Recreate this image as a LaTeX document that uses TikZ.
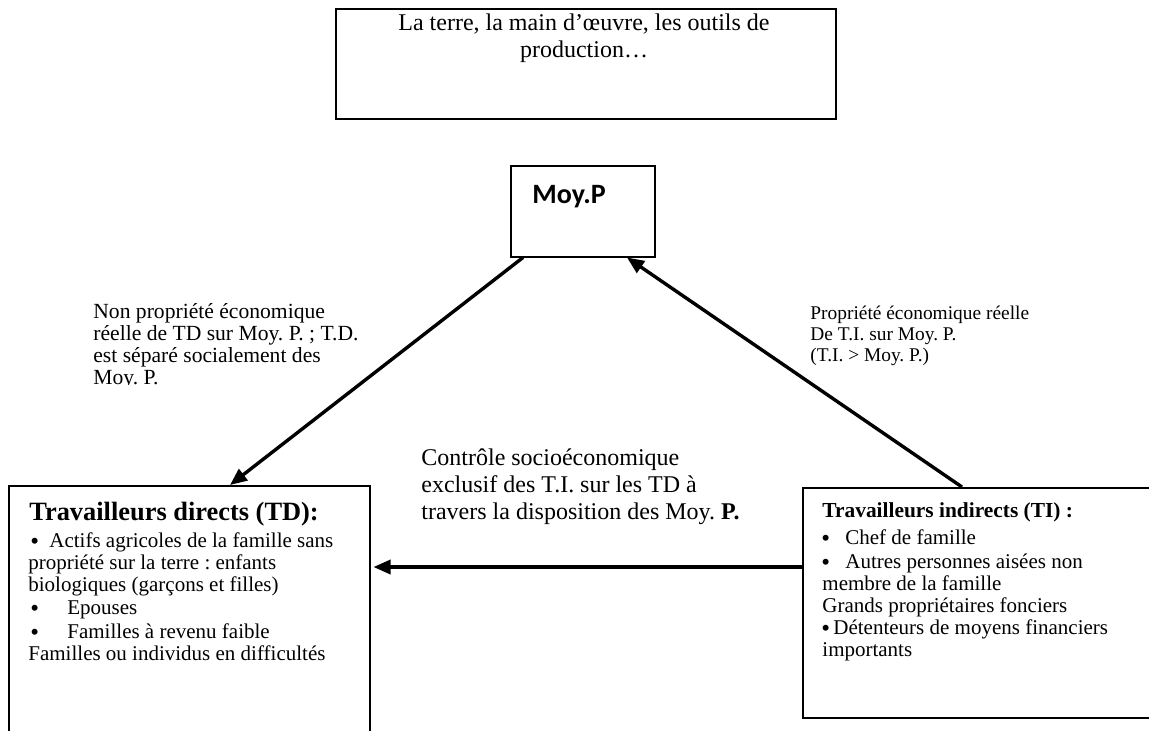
\documentclass[tikz,border=0pt]{standalone}
\usepackage{fontspec}
\setmainfont{Liberation Serif}
\newfontfamily\calfont{Carlito}
\usetikzlibrary{arrows.meta,calc}
\frenchspacing
\newcommand{\bul}{\raisebox{-0.3ex}[0.6ex][0pt]{\fontsize{12.5}{12}\selectfont•}}
\begin{document}
\begin{tikzpicture}[x=0.5pt,y=-0.5pt,
  box/.style={draw, line width=0.75pt, inner sep=0pt, anchor=north west},
  conn/.style={line width=1.7pt, -{Triangle[length=8.5pt,width=7pt]}},
  lbl/.style={inner sep=0pt, anchor=base west, font=\frenchspacing},
  ctr/.style={inner sep=0pt, anchor=base}]
\useasboundingbox (0,0) rectangle (1149,730);
\fill[white] (0,0) rectangle (1149,730);
\begin{scope}
\clip (0,0) rectangle (1149,730);
% boxes
\node[box, minimum width=250pt, minimum height=55pt] (top) at (335,8) {};
\node[box, minimum width=72pt, minimum height=45.5pt] (moyp) at (510,165) {};
\node[box, minimum width=180.5pt, minimum height=140pt] (td) at (8,485) {};
\node[box, minimum width=180pt, minimum height=115pt] (ti) at (802,487) {};
% box texts
\node[ctr] (toptxt) at (584,30) {\parbox[t]{240pt}{\centering\fontsize{12}{13.7}\selectfont La terre, la main d’œuvre, les outils de\\ production…}};
\node[lbl] (moyptxt) at (532,203) {\calfont\bfseries\fontsize{14}{16}\selectfont Moy.P};
% TD
\node[lbl] (tdh) at (29,520) {\fontsize{13.2}{15}\selectfont\bfseries Travailleurs directs (TD):};
\node[lbl] (tdbody) at (28,547) {\parbox[t]{175pt}{\raggedright\fontsize{10.5}{11}\selectfont
\hspace*{1pt}\makebox[9.5pt][l]{\bul}Actifs agricoles de la famille sans\\
propriété sur la terre : enfants\\
biologiques (garçons et filles)\\[0.5pt]
\hspace*{1pt}\makebox[18.5pt][l]{\bul}Epouses\\[1pt]
\hspace*{1pt}\makebox[18.5pt][l]{\bul}Familles à revenu faible\\
Familles ou individus en difficultés}};
% TI
\node[lbl] (tih) at (822,517) {\fontsize{10.7}{12}\selectfont\bfseries Travailleurs indirects (TI) :};
\node[lbl] (tibody) at (821,544) {\parbox[t]{170pt}{\raggedright\fontsize{10.5}{11}\selectfont
\makebox[12pt][l]{\bul}Chef de famille\\[1pt]
\makebox[12pt][l]{\bul}Autres personnes aisées non\\
\hspace*{0.5pt}membre de la famille\\
\hspace*{0.5pt}Grands propriétaires fonciers\\
\makebox[6pt][l]{\bul}Détenteurs de moyens financiers\\
\hspace*{0.5pt}importants}};
% labels
\begin{scope}
\clip (0,0) rectangle (500,384);
\node[lbl] (lab1) at (93,318) {\parbox[t]{150pt}{\raggedright\fontsize{10.8}{11.1}\selectfont Non propriété économique\\ réelle de TD sur Moy. P. ; T.D.\\ est séparé socialement des\\ Moy. P.}};
\end{scope}
\node[lbl] (lab2) at (810,319) {\parbox[t]{150pt}{\raggedright\fontsize{9.7}{10.5}\selectfont Propriété économique réelle\\ De T.I. sur Moy. P.\\ (T.I. > Moy. P.)}};
\node[lbl] (lab3) at (421,465) {\parbox[t]{200pt}{\raggedright\fontsize{12}{13.7}\selectfont Contrôle socioéconomique\\ exclusif des T.I. sur les TD à\\ travers la disposition des Moy. \textbf{P.}}};
% connectors
\coordinate (a1s) at ($(moyp.south west)+(13,0)$);
\coordinate (a1e) at ($(td.north west)+(222,0)$);
\coordinate (a2s) at ($(ti.north west)+(160,0)$);
\coordinate (a2e) at ($(moyp.south west)+(117,0)$);
\coordinate (a3s) at ($(ti.north west)+(0,80)$);
\coordinate (a3e) at ($(td.north east)+(3,82)$);
\draw[conn] (a1s) -- (a1e);
\draw[conn] (a2s) -- (a2e);
\draw[conn] (a3s) -- (a3e);
\end{scope}
\end{tikzpicture}
\end{document}
